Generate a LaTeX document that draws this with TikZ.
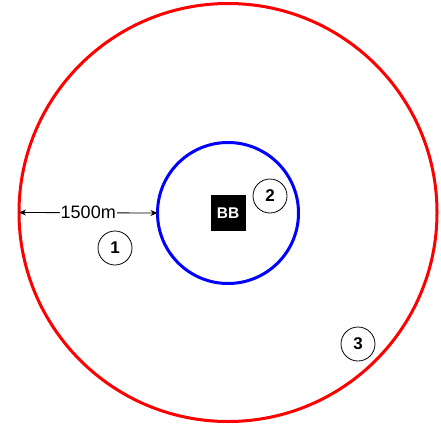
\documentclass[tikz,border=0pt]{standalone}
\usepackage{fontspec}
\setmainfont{Liberation Sans}
\usetikzlibrary{arrows.meta}
\definecolor{ZoneRed}{HTML}{FF0000}
\definecolor{CoreBlue}{HTML}{0000FF}
\tikzset{
  ring/.style={circle,draw,line width=3pt,inner sep=0pt,outer sep=0pt},
  tag/.style={circle,draw,line width=0.8pt,minimum size=34pt,inner sep=0pt,font=\fontsize{17}{17}\selectfont\bfseries},
}

\begin{document}
\begin{tikzpicture}[x=1pt,y=-1pt]
  \useasboundingbox (0,0) rectangle (441,428);
  \node[ring,ZoneRed,minimum size=418pt] (zone) at (228,212.5) {};
  \node[ring,CoreBlue,minimum size=141pt] (core) at (228,213) {};
  \node[fill=black,text=white,minimum width=35pt,minimum height=36pt,inner sep=0pt,
        font=\fontsize{15.5}{15.5}\selectfont\bfseries] (bb) at (228,213) {BB};
  \node[tag] (t1) at (115,248) {1};
  \node[tag] (t2) at (270,196) {2};
  \node[tag] (t3) at (358,344) {3};
  \draw[{Stealth[length=7pt,width=6pt]}-{Stealth[length=7pt,width=6pt]},line width=0.8pt]
    (zone.west) -- (core.west)
    node[midway,fill=white,inner sep=1pt,font=\fontsize{18}{18}\selectfont] {1500m};
\end{tikzpicture}
\end{document}
